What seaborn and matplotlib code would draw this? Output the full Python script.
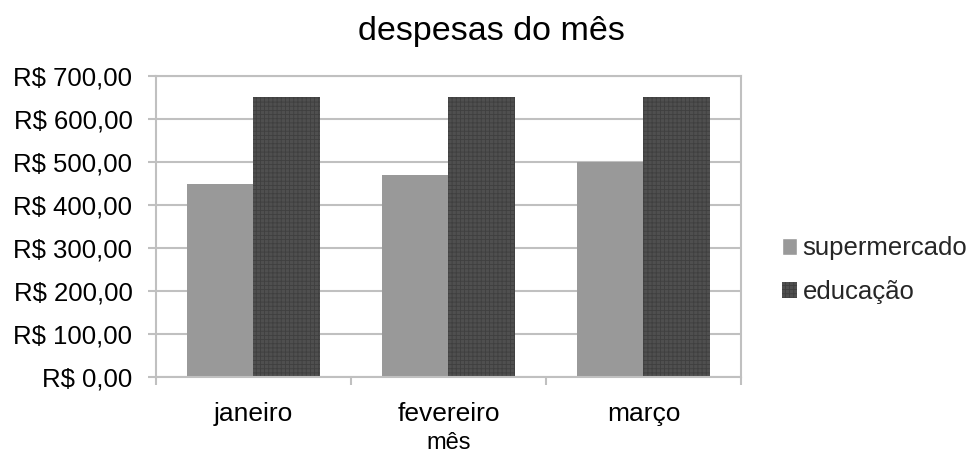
import matplotlib
matplotlib.use("Agg")
import matplotlib.pyplot as plt
from matplotlib.patches import Patch
from matplotlib.ticker import FixedLocator, FuncFormatter
import seaborn as sns
import pandas as pd

months = ["janeiro", "fevereiro", "março"]
series_names = ["supermercado", "educação"]
supermercado = [450, 470, 500]
educacao = [650, 650, 650]
y_ticks = [0, 100, 200, 300, 400, 500, 600, 700]

df = pd.DataFrame({
    "mês": months * 2,
    "valor": supermercado + educacao,
    "série": [series_names[0]] * 3 + [series_names[1]] * 3,
})

sns.set_theme(style="white")
plt.rcParams["font.family"] = ["Liberation Sans", "DejaVu Sans"]
plt.rcParams["hatch.linewidth"] = 0.6

fig = plt.figure(figsize=(9.72, 4.54), dpi=100)
ax = fig.add_axes([0.1605, 0.1696, 0.6018, 0.663])

colors = {"supermercado": "#999999", "educação": "#4f4f4f"}
sns.barplot(data=df, x="mês", y="valor", hue="série", palette=colors,
            width=0.68, gap=0, ax=ax, legend=False, saturation=1,
            linewidth=0)

# pattern on educação bars
for bar in ax.containers[1]:
    bar.set_hatch("++++")
    bar.set_edgecolor("#3f3f3f")
    bar.set_linewidth(0)

ax.set_ylim(0, 700)
ax.set_xlim(-0.5, 2.5)
ax.yaxis.set_major_locator(FixedLocator(y_ticks))
ax.yaxis.set_major_formatter(FuncFormatter(lambda v, p: f"R$ {int(v)},00"))
ax.grid(axis="y", color="#c0c0c0", linewidth=1.5)
ax.set_axisbelow(True)

for s in ax.spines.values():
    s.set_color("#c0c0c0")
    s.set_linewidth(1.5)

ax.xaxis.set_minor_locator(FixedLocator([-0.5, 0.5, 1.5, 2.5]))
ax.tick_params(axis="x", which="major", length=0, labelsize=19, pad=18,
               colors="black")
ax.tick_params(axis="x", which="minor", length=6, width=1.5, color="#c0c0c0",
               direction="out", bottom=True)
ax.tick_params(axis="y", which="major", length=6, width=1.5, color="#c0c0c0",
               direction="out", left=True, labelsize=18.5, pad=11,
               labelcolor="black")

ax.set_ylabel("")
ax.set_xlabel("mês", fontsize=17, labelpad=4, color="black")
fig.text(0.506, 0.912, "despesas do mês", fontsize=24.5, ha="center",
         va="baseline", color="black")

handles = [Patch(facecolor=colors["supermercado"], label="supermercado"),
           Patch(facecolor=colors["educação"], edgecolor="#3f3f3f",
                 hatch="++++", linewidth=0, label="educação")]
fig.legend(handles=handles, loc="center left", bbox_to_anchor=(0.794, 0.405),
           frameon=False, fontsize=18.5, handlelength=0.6, handleheight=0.6,
           handletextpad=0.2, labelspacing=0.75, borderaxespad=0)

fig.savefig("out.png", dpi=100)
